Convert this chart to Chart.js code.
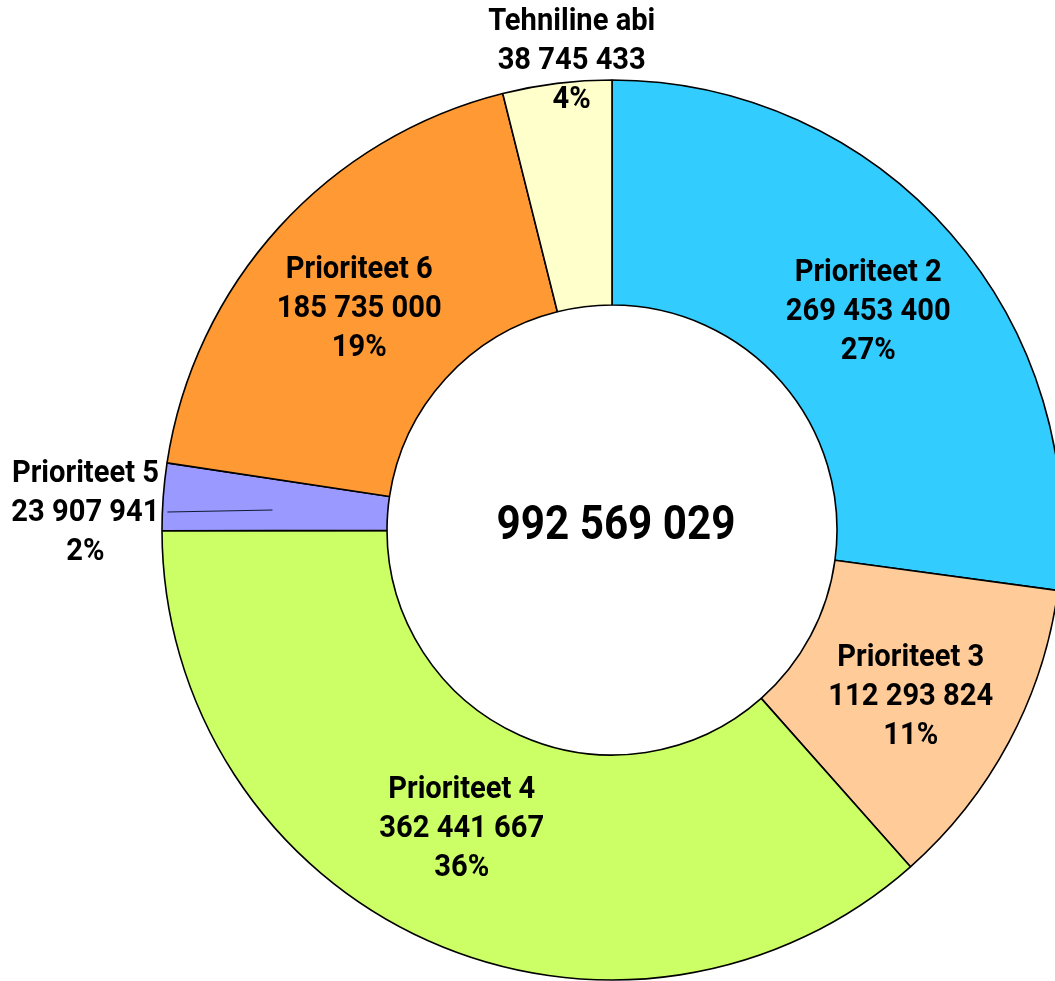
<!DOCTYPE html>
<html>
<head>
<meta charset="utf-8">
<script src="https://cdn.jsdelivr.net/npm/chart.js@4"></script>
<style>
  html, body { margin: 0; padding: 0; background: #fff; overflow: hidden; }
  #wrap { width: 1055px; height: 981px; position: relative; }
</style>
</head>
<body>
<div id="wrap"><canvas id="priorityChart"></canvas></div>
<script>
const categories = ['Prioriteet 2', 'Prioriteet 3', 'Prioriteet 4', 'Prioriteet 5', 'Prioriteet 6', 'Tehniline abi'];
const amounts = [269453400, 112293824, 362441667, 23907941, 185735000, 38745433];
const percents = ['27%', '11%', '36%', '2%', '19%', '4%'];
const totalLabel = '992 569 029';

const sliceColors = ['#33ccff', '#ffcc99', '#ccff66', '#9999ff', '#ff9933', '#ffffcc'];
// nudges from the slice midpoint, like the hand-placed labels of the original
const labelShift = [[2, 4], [1, 8], [-12, -9], [-190, 8], [-3, 6], [1, -134]];

const fmt = (n) => String(n).replace(/\B(?=(\d{3})+(?!\d))/g, ' ');

function drawText(ctx, text, x, y, size, squeeze) {
  ctx.save();
  ctx.translate(x, y);
  ctx.scale(squeeze, 1);
  ctx.font = `bold ${size}px Roboto`;
  ctx.textAlign = 'center';
  ctx.textBaseline = 'middle';
  ctx.fillStyle = '#000';
  ctx.fillText(text, 0, 0);
  ctx.restore();
}

const sliceLabels = {
  id: 'sliceLabels',
  afterDatasetsDraw(chart) {
    const ctx = chart.ctx;
    const meta = chart.getDatasetMeta(0);
    meta.data.forEach((arc, i) => {
      const p = arc.tooltipPosition();
      const x = p.x + labelShift[i][0];
      const y = p.y + labelShift[i][1];
      if (i === 3) {
        // leader line from the slice back to its outside label
        ctx.save();
        ctx.strokeStyle = '#111a33';
        ctx.lineWidth = 1.2;
        ctx.beginPath();
        ctx.moveTo(p.x - 3, p.y + 5);
        ctx.lineTo(x + 82, y - 1);
        ctx.stroke();
        ctx.restore();
      }
      [categories[i], fmt(amounts[i]), percents[i]].forEach((t, k) => {
        drawText(ctx, t, x, y + (k - 1) * 39, 32, 0.91);
      });
    });
    const c = meta.data[0];
    drawText(ctx, totalLabel, c.x + 4, c.y - 3, 48, 0.88);
  }
};

new Chart(document.getElementById('priorityChart'), {
  type: 'doughnut',
  data: {
    labels: categories,
    datasets: [{
      data: amounts,
      backgroundColor: sliceColors,
      borderColor: '#000',
      borderWidth: 1.6,
      hoverOffset: 0,
    }],
  },
  options: {
    responsive: true,
    maintainAspectRatio: false,
    animation: false,
    radius: 450,
    cutout: '50%',
    layout: { padding: { left: 169, top: 79, right: 0, bottom: 0 } },
    plugins: { legend: { display: false }, tooltip: { enabled: false } },
  },
  plugins: [sliceLabels],
});
</script>
</body>
</html>
